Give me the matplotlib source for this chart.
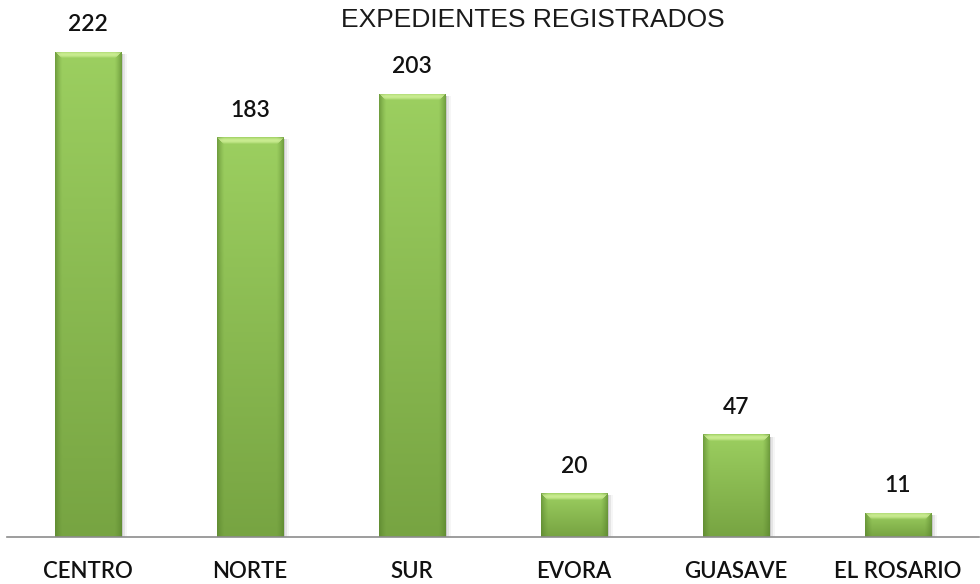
import matplotlib
matplotlib.use("Agg")
import matplotlib.pyplot as plt
import numpy as np
from matplotlib.colors import to_rgb
from matplotlib.patches import Rectangle

oficinas = ["CENTRO", "NORTE", "SUR", "EVORA", "GUASAVE", "EL ROSARIO"]
expedientes = [222, 183, 203, 20, 47, 11]
titulo = "EXPEDIENTES REGISTRADOS"

W, H, DPI = 980, 584, 100
fnt = ["Lato", "DejaVu Sans"]

fig = plt.figure(figsize=(W / DPI, H / DPI), dpi=DPI)
ax = fig.add_axes([7 / W, 47 / H, 972 / W, 537 / H])
ax.set_xlim(-0.5, 5.5)
ax.set_ylim(0, 245.8)

top_c = np.array(to_rgb("#9ccf60"))
bot_c = np.array(to_rgb("#77a442"))
side_c = np.array(to_rgb("#55802a"))
bevel_c = np.array(to_rgb("#d8f5a0"))


def bar_image(wpx, hpx, bev=7):
    t = np.linspace(0, 1, hpx)[:, None, None]
    img = (top_c * (1 - t) + bot_c * t) * np.ones((hpx, wpx, 3))
    rr, cc = np.mgrid[0:hpx, 0:wpx]
    dside = np.minimum(cc, wpx - 1 - cc)
    side = dside < bev
    f = ((1 - dside / bev) ** 1.3)[..., None] * 0.6
    img = np.where(side[..., None], img * (1 - f) + side_c * f, img)
    topm = (rr < bev) & (rr <= dside)
    g = np.sin(np.pi * (rr + 0.5) / bev)[..., None] * 0.75
    img = np.where(topm[..., None], img * (1 - g) + bevel_c * g, img)
    return img


bars = ax.bar(range(len(oficinas)), expedientes, width=0.41, color="#8cc152",
              zorder=2)

fig.canvas.draw()
to_px = ax.transData
for b in bars:
    x0, y0 = b.get_x(), b.get_y()
    x1, y1 = x0 + b.get_width(), y0 + b.get_height()
    (px0, py0), (px1, py1) = to_px.transform([(x0, y0), (x1, y1)])
    wpx = max(int(round(px1 - px0)), 2)
    hpx = max(int(round(py1 - py0)), 2)
    im = ax.imshow(bar_image(wpx, hpx), extent=(x0, x1, y0, y1), aspect="auto",
                   zorder=3, interpolation="bilinear")
    im.set_clip_path(b)
    # soft shadow to the right
    dx = 3 / 162
    for k, a in enumerate([0.20, 0.10, 0.05]):
        ax.add_patch(Rectangle((x0 + dx * (k + 1) * 0.6, y0), b.get_width(),
                               b.get_height() - 1.0, color="#555555", alpha=a,
                               lw=0, zorder=1))

for i, v in enumerate(expedientes):
    ax.annotate(str(v), (i, v), xytext=(0, 12), textcoords="offset points",
                ha="center", va="bottom", fontsize=16.5, family=fnt,
                fontweight="semibold", color="#111111")

for s in ["top", "left", "right"]:
    ax.spines[s].set_visible(False)
ax.spines["bottom"].set_color("#8c8c8c")
ax.spines["bottom"].set_linewidth(1.2)
ax.spines["bottom"].set_zorder(5)
ax.set_yticks([])
ax.set_xticks(range(len(oficinas)))
ax.set_xticklabels(oficinas, fontsize=16, family=fnt, fontweight="semibold",
                   color="#111111")
ax.tick_params(axis="x", length=0, pad=17)
ax.patch.set_alpha(0)

fig.text(533 / W, 1 - 8 / H, titulo, ha="center", va="top", fontsize=19,
         family=["Liberation Sans", "DejaVu Sans"], color="#1a1a1a")

fig.savefig("out.png", dpi=DPI, facecolor="white")
